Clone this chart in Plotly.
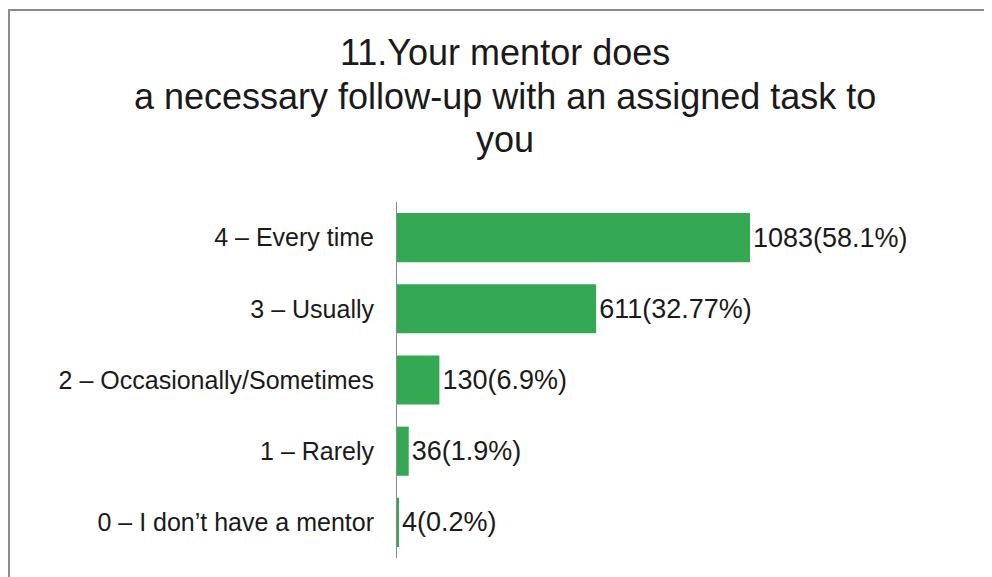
import plotly.graph_objects as go

# survey answers, top to bottom as shown
categories = ["4 – Every time", "3 – Usually", "2 – Occasionally/Sometimes",
              "1 – Rarely", "0 – I don’t have a mentor"]
counts = [1083, 611, 130, 36, 4]
percents = ["58.1%", "32.77%", "6.9%", "1.9%", "0.2%"]

title_lines = ["11.Your mentor does",
               "a necessary follow-up with an assigned task to",
               "you"]

labels = [f"{c}({p})" for c, p in zip(counts, percents)]

# page has an 8px body margin, so the figure is a bit smaller than the window
W, H = 984, 569
L, R, T, B = 389, 154, 194, 19
pw, ph = W - L - R, H - T - B


def px_x(x):
    return (x - L) / pw


def px_y(y):
    return (H - B - y) / ph


fig = go.Figure(go.Bar(
    x=counts, y=categories, orientation="h",
    marker=dict(color="#34A853", line=dict(width=0)),
    text=labels, textposition="outside", cliponaxis=False,
    textfont=dict(size=27, color="#1a1a1a"),
    width=0.69,
))

fig.update_layout(
    width=W, height=H,
    margin=dict(l=L, r=R, t=T, b=B, autoexpand=False),
    paper_bgcolor="white", plot_bgcolor="white",
    font=dict(family="Liberation Sans, Arial, sans-serif", color="#1a1a1a"),
    showlegend=False,
)
fig.update_xaxes(range=[0, 1353], visible=False)
fig.update_yaxes(autorange="reversed", showline=True, linecolor="#8a8a8a",
                 linewidth=1, ticks="", ticklabelstandoff=17,
                 tickfont=dict(size=25, color="#1a1a1a"), showgrid=False)

# title, one annotation per line
for i, line in enumerate(title_lines):
    fig.add_annotation(text=line, xref="paper", yref="paper",
                       x=px_x(497), y=px_y(44 + i * 44),
                       xanchor="center", yanchor="middle",
                       showarrow=False, font=dict(size=36, color="#1a1a1a"))

# frame around the chart (top and left edges visible)
fig.add_shape(type="path", xref="paper", yref="paper",
              path=f"M {px_x(1)},{px_y(600)} L {px_x(1)},{px_y(2)} L {px_x(1000)},{px_y(2)}",
              line=dict(color="#8c8c8c", width=2))

fig.write_html("out.html")
